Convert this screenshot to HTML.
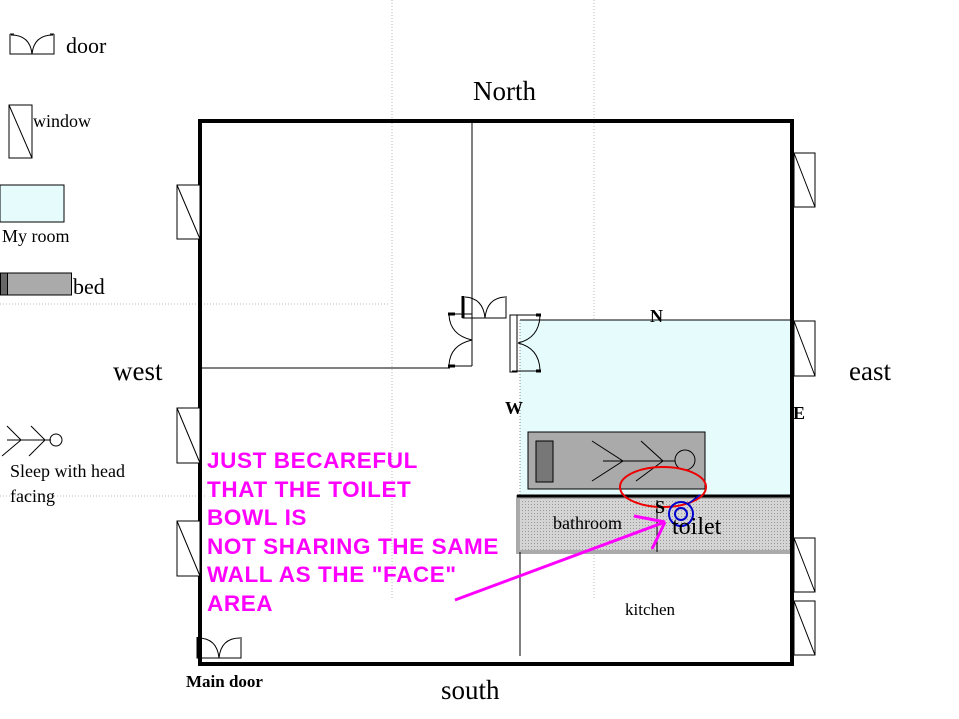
<!DOCTYPE html>
<html><head><meta charset="utf-8"><style>
html,body{margin:0;padding:0;background:#fff;width:959px;height:719px;overflow:hidden}
svg{display:block}
text{font-family:"Liberation Serif",serif;fill:#000}
.m{font-family:"Liberation Sans",sans-serif;font-weight:bold;fill:#f0f;font-size:22.5px;letter-spacing:0.6px}
</style></head><body>
<svg width="959" height="719" viewBox="0 0 959 719">
<defs>
<pattern id="hatch" width="3" height="3" patternUnits="userSpaceOnUse"><rect width="3" height="3" fill="#d4d4d4"/><rect width="1" height="1" fill="#999"/></pattern>
</defs>
<g stroke="#bbb" stroke-width="1" stroke-dasharray="1,2">
<line x1="392" y1="0" x2="392" y2="600"/>
<line x1="594" y1="0" x2="594" y2="600"/>
<line x1="0" y1="304" x2="388" y2="304"/>
<line x1="0" y1="496" x2="205" y2="496"/>
</g>
<rect x="520" y="320" width="272" height="176" fill="#e6fbfc"/>
<line x1="520" y1="320" x2="792" y2="320" stroke="#000" stroke-width="1"/>
<line x1="520" y1="320" x2="520" y2="496" stroke="#888" stroke-width="1" stroke-dasharray="1,2"/>
<rect x="518" y="497" width="274" height="55" fill="url(#hatch)" stroke="#aaa" stroke-width="4"/>
<line x1="517" y1="496" x2="792" y2="496" stroke="#000" stroke-width="3"/>
<line x1="657" y1="500" x2="657" y2="552" stroke="#000" stroke-width="1"/>
<line x1="520" y1="552" x2="520" y2="656" stroke="#000" stroke-width="1"/>
<rect x="200" y="121" width="592" height="543" fill="none" stroke="#000" stroke-width="4"/>
<line x1="472" y1="121" x2="472" y2="366" stroke="#000" stroke-width="1"/>
<line x1="200" y1="368" x2="450" y2="368" stroke="#000" stroke-width="1"/>
<g fill="#fff" stroke="#000" stroke-width="1">
<rect x="9" y="105" width="23" height="53"/><line x1="9" y1="105" x2="32" y2="158"/>
<rect x="177" y="185" width="23" height="54"/><line x1="177" y1="185" x2="200" y2="239"/>
<rect x="177" y="408" width="23" height="55"/><line x1="177" y1="408" x2="200" y2="463"/>
<rect x="177" y="521" width="23" height="55"/><line x1="177" y1="521" x2="200" y2="576"/>
<rect x="794" y="153" width="21" height="54"/><line x1="794" y1="153" x2="815" y2="207"/>
<rect x="794" y="321" width="21" height="55"/><line x1="794" y1="321" x2="815" y2="376"/>
<rect x="794" y="538" width="21" height="54"/><line x1="794" y1="538" x2="815" y2="592"/>
<rect x="794" y="601" width="21" height="54"/><line x1="794" y1="601" x2="815" y2="655"/>
</g>
<g fill="none" stroke="#000" stroke-width="1">
<path d="M10 34V54H54V34M10 34L14 34M54 34L50 34M11 35Q30 35 32 54M53 35Q34 35 32 54"/>
<path d="M197 637V658H241V637M198 638Q217 638 219 658M240 638Q221 638 219 658"/>
<path d="M463 296V318H506V296M465 297Q483 298 485 318M505 297Q487 298 485 318M463 318H506"/>
<path d="M448 314H472M448 366H472M449 315Q450 335 472 340M449 365Q450 345 472 340"/>
<rect x="510" y="315" width="7" height="57"/>
<path d="M512 315H541M512 371H541M540 316Q539 338 518 343M540 370Q539 348 518 343"/>
</g>
<g stroke="#000" stroke-width="3">
<line x1="463" y1="296" x2="463" y2="318"/><line x1="448" y1="314" x2="455" y2="314"/><line x1="448" y1="366" x2="455" y2="366"/>
<line x1="536" y1="315" x2="541" y2="315"/><line x1="536" y1="371" x2="541" y2="371"/>
<line x1="199" y1="637" x2="199" y2="658"/>
</g>
<rect x="0" y="185" width="64" height="37" fill="#e6fbfc" stroke="#000" stroke-width="1"/>
<rect x="0.5" y="273" width="71" height="22" fill="#aaa" stroke="#000" stroke-width="1"/>
<rect x="0.5" y="273" width="7" height="22" fill="#666" stroke="#000" stroke-width="1"/>
<g fill="none" stroke="#000" stroke-width="1">
<path d="M7 426L21 440L2 456M31 426L45 440L29 456M7 440H51"/>
<circle cx="56" cy="440" r="6"/>
</g>
<rect x="528" y="432" width="177" height="57" fill="#aaa" stroke="#000" stroke-width="1"/>
<rect x="536" y="441" width="17" height="41" fill="#777" stroke="#000" stroke-width="1"/>
<g fill="none" stroke="#000" stroke-width="1">
<path d="M592 441L623 461L592 481M603 461H675M641 441L663 461L636 481"/>
<circle cx="685" cy="460" r="10"/>
</g>
<ellipse cx="663" cy="487" rx="43" ry="20" fill="none" stroke="#e00" stroke-width="2"/>
<circle cx="681" cy="514" r="12" fill="none" stroke="#00c" stroke-width="2"/>
<circle cx="681" cy="514" r="6" fill="none" stroke="#00c" stroke-width="2"/>
<path d="M688 504L700 495" stroke="#00c" stroke-width="1.5"/>
<g stroke="#f0f" stroke-width="3" fill="none">
<line x1="455" y1="600" x2="665" y2="522"/>
<line x1="634" y1="516" x2="665" y2="522"/>
<line x1="652" y1="549" x2="665" y2="522"/>
</g>
<text x="66" y="53" font-size="22">door</text>
<text x="33" y="127" font-size="18">window</text>
<text x="2" y="242" font-size="18">My room</text>
<text x="73" y="294" font-size="22">bed</text>
<text x="10" y="477" font-size="18">Sleep with head</text>
<text x="10" y="502" font-size="18">facing</text>
<text x="473" y="100" font-size="27">North</text>
<text x="441" y="699" font-size="27">south</text>
<text x="113" y="380" font-size="27">west</text>
<text x="849" y="380" font-size="27">east</text>
<text x="650" y="322" font-size="18" font-weight="bold">N</text>
<text x="505" y="414" font-size="18" font-weight="bold">W</text>
<text x="793" y="419" font-size="18" font-weight="bold">E</text>
<text x="655" y="513" font-size="18" font-weight="bold">S</text>
<text x="553" y="529" font-size="18">bathroom</text>
<text x="672" y="534" font-size="24">toilet</text>
<text x="625" y="615" font-size="17">kitchen</text>
<text x="186" y="687" font-size="17" font-weight="bold">Main door</text>
<text class="m" x="207" y="468">JUST BECAREFUL</text>
<text class="m" x="207" y="497">THAT THE TOILET</text>
<text class="m" x="207" y="525">BOWL IS</text>
<text class="m" x="207" y="554">NOT SHARING THE SAME</text>
<text class="m" x="207" y="582">WALL AS THE "FACE"</text>
<text class="m" x="207" y="611">AREA</text>
</svg>
</body></html>
